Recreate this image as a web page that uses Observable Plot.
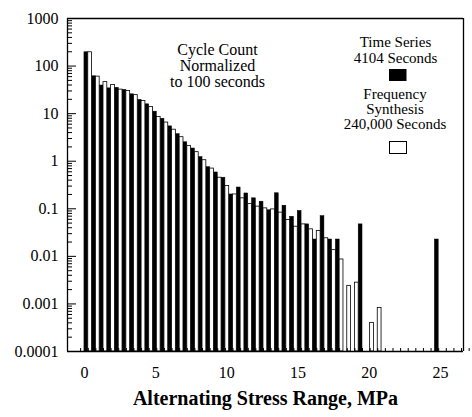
<!DOCTYPE html>
<html><head><meta charset="utf-8">
<script src="https://cdn.jsdelivr.net/npm/d3@7"></script>
<script src="https://cdn.jsdelivr.net/npm/@observablehq/plot@0.6"></script>
<style>
html,body{margin:0;padding:0;background:#fff;}
#chart svg{display:block;}
</style></head><body><div id="chart"></div>
<script>
// Histogram bins: bin k spans [k*binWidth, (k+1)*binWidth] MPa
const binWidth = 0.535;
const binIndex = [0,1,2,3,4,5,6,7,8,9,10,11,12,13,14,15,16,17,18,19,20,21,22,23,24,25,26,27,28,29,
  30,31,32,33,34,35,36,37,38,39,40,41,42,43,44,45,46];
// Time Series, 4104 Seconds (black bars), cycles per 100 s
const timeSeries = [195,61,39,34,35,31.5,25.5,19.5,15.7,11,7.8,5.4,3.7,2.5,1.85,1.22,0.75,0.58,0.45,0.2,
  0.28,0.21,0.166,0.141,0.093,0.212,0.116,0.068,0.09,0.047,0.0226,0.07,0.0226,0.0226,null,null,0.047,null,null,
  null,null,null,null,null,null,null,0.0226];
// Frequency Synthesis, 240,000 Seconds (white bars)
const freqSynth = [195,60,46,40,32,30,24.5,18.5,13.8,8.5,6.5,4.6,3.2,2.1,1.55,1.05,0.7,0.45,0.3,0.2,
  0.166,0.126,0.111,0.102,0.097,0.083,0.058,0.042,0.047,0.037,0.034,0.024,0.0135,0.0086,0.0024,0.0028,null,0.0004,0.00082,
  null,null,null,null,null,null,null,null];

const yTickValues = [1e-4, 1e-3, 0.01, 0.1, 1, 10, 100, 1000];
const yTickLabels = ["0.0001","0.001","0.01","0.1","1","10","100","1000"];
const xTickValues = [0,5,10,15,20,25];
const xTickLabels = ["0","5","10","15","20","25"];

const yDomain = [1e-4, 1000];
const xDomain = [-1.19, 26.62];

const black = binIndex.map((k, i) => ({k, v: timeSeries[i]})).filter(d => d.v != null);
const white = binIndex.map((k, i) => ({k, v: freqSynth[i]})).filter(d => d.v != null);

const yMinor = [];
for (let k = -4; k < 3; k++) for (let m = 2; m <= 9; m++) yMinor.push(m * Math.pow(10, k));
// small inward marks at the middle of every bin along the base
const binMarks = [];
for (let k = -1; k <= 50; k++) binMarks.push((k + 0.5) * binWidth);

const serif = "'Liberation Serif', 'Times New Roman', serif";

function swatches(index, scales, values, dims) {
  const g = d3.create("svg:g");
  g.append("rect").attr("x", 389).attr("y", 69).attr("width", 17.5).attr("height", 12).attr("fill", "black");
  g.append("rect").attr("x", 389.5).attr("y", 141.5).attr("width", 17).attr("height", 12)
    .attr("fill", "white").attr("stroke", "black").attr("stroke-width", 1);
  return g.node();
}

const chart = Plot.plot({
  width: 472, height: 417,
  marginLeft: 67, marginRight: 9, marginTop: 18, marginBottom: 66,
  style: {fontFamily: serif, fontSize: "16px", background: "white", color: "black"},
  x: {domain: xDomain},
  y: {type: "log", domain: yDomain},
  marks: [
    Plot.rect(black, {x1: d => d.k * binWidth, x2: d => (d.k + 0.5) * binWidth, y1: yDomain[0], y2: "v", fill: "black", stroke: "black", strokeWidth: 0.5}),
    Plot.rect(white, {x1: d => (d.k + 0.5) * binWidth, x2: d => (d.k + 1) * binWidth, y1: yDomain[0], y2: "v", fill: "white", stroke: "black", strokeWidth: 0.8}),
    Plot.axisY({ticks: yTickValues, tickSize: 0, tickPadding: 9, label: null, tickFormat: d => yTickLabels[yTickValues.indexOf(d)], fontSize: 16}),
    Plot.axisY({ticks: yTickValues, tickSize: -9, label: null, tickFormat: () => ""}),
    Plot.axisY({ticks: yMinor, tickSize: -5, label: null, tickFormat: () => ""}),
    Plot.axisX({ticks: xTickValues, tickSize: 0, tickPadding: 15, label: null, tickFormat: d => xTickLabels[xTickValues.indexOf(d)], fontSize: 16}),
    Plot.axisX({ticks: binMarks, tickSize: -3, label: null, tickFormat: () => ""}),
    Plot.ruleY([yDomain[0], yDomain[1]], {strokeWidth: 1.3}),
    Plot.ruleX([xDomain[0], xDomain[1]], {strokeWidth: 1.3}),
    Plot.text(["Cycle Count\nNormalized\nto 100 seconds"], {frameAnchor: "top-left", dx: 217 - 67, dy: 25, textAnchor: "middle", lineAnchor: "top", fontSize: 16, lineHeight: 1.0}),
    Plot.text(["Time Series\n4104 Seconds"], {frameAnchor: "top-left", dx: 395 - 67, dy: 17, textAnchor: "middle", lineAnchor: "top", fontSize: 15, lineHeight: 1.067}),
    Plot.text(["Frequency\nSynthesis\n240,000 Seconds"], {frameAnchor: "top-left", dx: 394.5 - 67, dy: 70, textAnchor: "middle", lineAnchor: "top", fontSize: 15, lineHeight: 1.0}),
    swatches,
    Plot.text(["Alternating Stress Range, MPa"], {frameAnchor: "bottom", dx: 0, dy: 39.5, textAnchor: "middle", lineAnchor: "top", fontSize: 20, fontWeight: "bold"})
  ]
});
document.getElementById("chart").appendChild(chart);
</script>
</body></html>
